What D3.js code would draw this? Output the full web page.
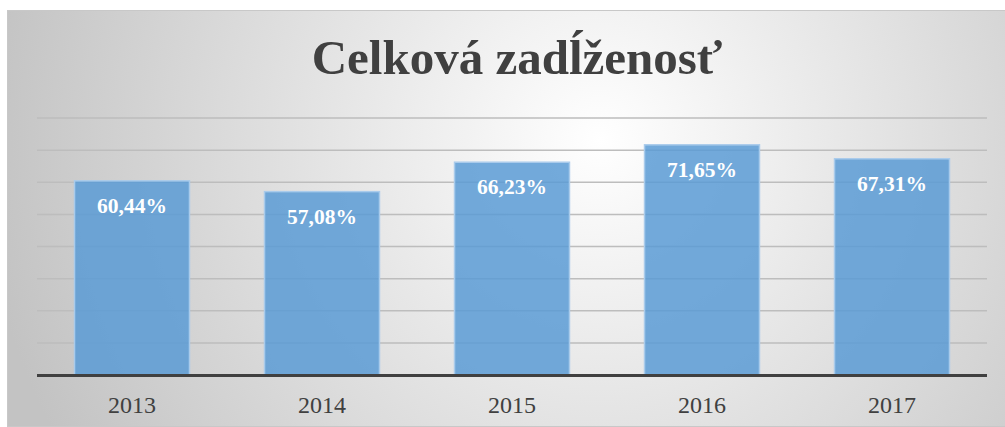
<!DOCTYPE html>
<html>
<head>
<meta charset="utf-8">
<style>
  html, body { margin: 0; padding: 0; background: #fff; }
  svg { display: block; }
</style>
<script src="https://cdn.jsdelivr.net/npm/d3@7/dist/d3.min.js"></script>
</head>
<body>
<svg id="chart"></svg>
<script>
// chart data
var years = ["2013", "2014", "2015", "2016", "2017"];
var values = [60.44, 57.08, 66.23, 71.65, 67.31];
var gridTicks = [0, 10, 20, 30, 40, 50, 60, 70, 80];
var title = "Celková zadĺženosť";

var width = 1005, height = 427;
var font = "Liberation Serif";
var svg = d3.select("#chart").attr("width", width).attr("height", height);

// background with radial gradient
var defs = svg.append("defs");
var grad = defs.append("radialGradient")
  .attr("id", "bg")
  .attr("gradientUnits", "userSpaceOnUse")
  .attr("cx", 600).attr("cy", 140).attr("r", 620);
grad.append("stop").attr("offset", "0%").attr("stop-color", "#ffffff");
grad.append("stop").attr("offset", "100%").attr("stop-color", "#c3c3c3");

svg.append("rect")
  .attr("x", 7.5).attr("y", 10.5)
  .attr("width", 1010).attr("height", 416)
  .attr("fill", "url(#bg)")
  .attr("stroke", "#c8c8c8")
  .attr("stroke-width", 1);

var margin = {left: 37, right: 18, top: 118, bottom: 52};
var plotW = width - margin.left - margin.right;

var x = d3.scaleBand()
  .domain(years)
  .range([margin.left, margin.left + plotW])
  .paddingInner(0.395)
  .paddingOuter(0.1975);

var y = d3.scaleLinear()
  .domain([0, 80])
  .range([375, 118]);

// gridlines
svg.append("g")
  .selectAll("line")
  .data(gridTicks.filter(function(d) { return d > 0; }))
  .enter().append("line")
  .attr("x1", margin.left).attr("x2", margin.left + plotW)
  .attr("y1", function(d) { return y(d); })
  .attr("y2", function(d) { return y(d); })
  .attr("stroke", "#bdbdbd")
  .attr("stroke-width", 1.5);

// bars
svg.append("g")
  .selectAll("rect")
  .data(values)
  .enter().append("rect")
  .attr("x", function(d, i) { return x(years[i]); })
  .attr("y", function(d) { return y(d); })
  .attr("width", x.bandwidth())
  .attr("height", function(d) { return y(0) - y(d); })
  .attr("fill", "#5b9bd5")
  .attr("fill-opacity", 0.85)
  .attr("stroke", "#a9cbeb")
  .attr("stroke-width", 1.5);

// baseline
svg.append("line")
  .attr("x1", margin.left).attr("x2", margin.left + plotW)
  .attr("y1", y(0) + 0.5).attr("y2", y(0) + 0.5)
  .attr("stroke", "#404040")
  .attr("stroke-width", 3);

// value labels
svg.append("g")
  .selectAll("text")
  .data(values)
  .enter().append("text")
  .attr("x", function(d, i) { return x(years[i]) + x.bandwidth() / 2; })
  .attr("y", function(d) { return y(d) + 32; })
  .attr("text-anchor", "middle")
  .style("font-family", font)
  .style("font-weight", "bold")
  .style("font-size", "21.5px")
  .attr("fill", "#ffffff")
  .text(function(d) { return d.toFixed(2).replace(".", ",") + "%"; });

// category labels
svg.append("g")
  .selectAll("text")
  .data(years)
  .enter().append("text")
  .attr("x", function(d) { return x(d) + x.bandwidth() / 2; })
  .attr("y", 412.5)
  .attr("text-anchor", "middle")
  .style("font-family", font)
  .style("font-size", "24px")
  .attr("fill", "#404040")
  .text(function(d) { return d; });

// title
svg.append("text")
  .attr("x", 517)
  .attr("y", 73.5)
  .attr("text-anchor", "middle")
  .style("font-family", font)
  .style("font-weight", "bold")
  .style("font-size", "49px")
  .attr("fill", "#404040")
  .text(title);
</script>
</body>
</html>
